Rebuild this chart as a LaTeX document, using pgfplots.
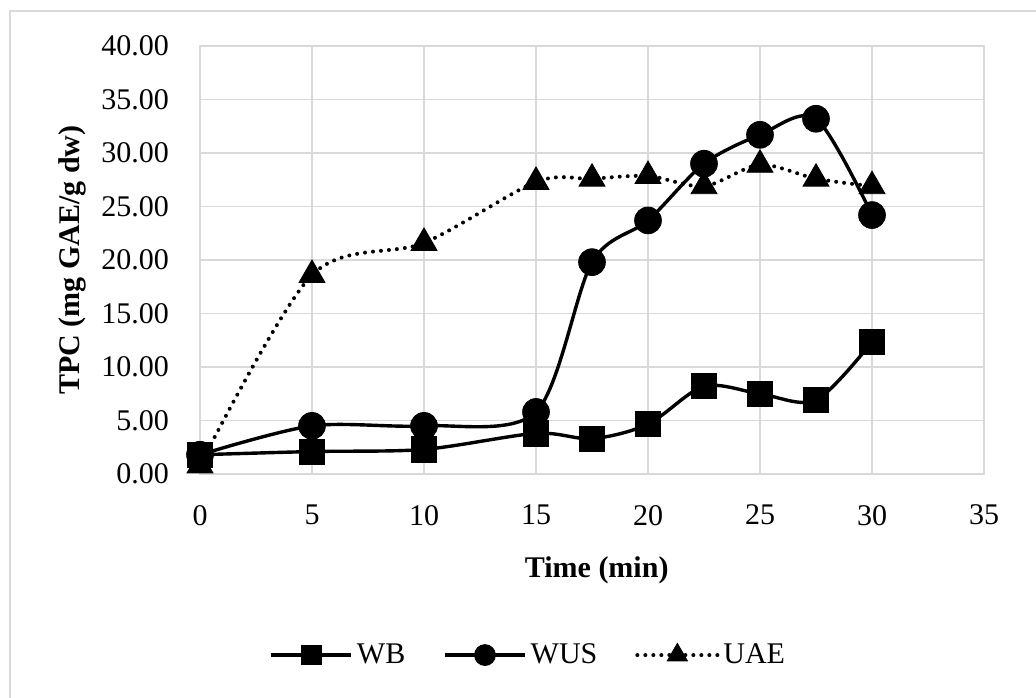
\documentclass[border=0pt]{standalone}
\usepackage{fontspec}
\setmainfont{Liberation Serif}
\usepackage{pgfplots}
\pgfplotsset{compat=1.18}
\definecolor{gridgray}{HTML}{D9D9D9}
\begin{document}
\begin{tikzpicture}[x=1pt,y=1pt]
\useasboundingbox (0,0) rectangle (518,348.5);
\draw[gridgray, line width=0.9pt] (5,-20) rectangle (540,343);
\begin{axis}[
  at={(100pt,111.5pt)}, anchor=south west,
  width=392pt, height=214pt, scale only axis,
  xmin=0, xmax=35, ymin=0, ymax=40,
  xtick={0,5,...,35}, ytick={0,5,...,40},
  grid=major, major grid style={gridgray, line width=0.75pt},
  axis line style={gridgray, line width=0.75pt},
  tick style={draw=none},
  clip=false,
  font=\fontsize{15}{18}\selectfont,
  /pgf/number format/assume math mode=true,
  y tick label style={/pgf/number format/.cd, fixed, fixed zerofill, precision=2, /tikz/.cd, xshift=-12pt},
  x tick label style={/pgf/number format/.cd, fixed, precision=0, /tikz/.cd, yshift=-12pt},
  xlabel={\textbf{Time (min)}},
  ylabel={\textbf{TPC (mg GAE/g dw)}},
  x label style={at={(axis description cs:0.506,-0.224)}, anchor=center},
  y label style={at={(axis description cs:-0.163,0.5)}, anchor=center},
  legend columns=3,
  legend style={at={(axis description cs:0.42,-0.423)}, anchor=center, draw=none, fill=none,
    /tikz/every even column/.append style={column sep=17pt},
    nodes={inner sep=2pt}},
  legend image code/.code={\draw[mark repeat=2, mark phase=2, #1, every mark/.append style={scale=0.78}] plot coordinates {(0pt,0pt) (20pt,0pt) (40pt,0pt)};},
]
\addplot[black, line width=1.7pt, smooth, tension=0.5, mark=square*, mark size=6.3pt, mark options={solid, line width=0.4pt, fill=black}]
coordinates {(0,1.8)(5,2.1)(10,2.3)(15,3.8)(17.5,3.3)(20,4.65)(22.5,8.2)(25,7.5)(27.5,6.9)(30,12.35)};
\addlegendentry{WB}
\addplot[black, line width=1.7pt, smooth, tension=0.5, mark=*, mark size=6.7pt, mark options={solid, line width=0.4pt, fill=black}]
coordinates {(0,1.8)(5,4.5)(10,4.5)(15,5.8)(17.5,19.8)(20,23.7)(22.5,29.0)(25,31.7)(27.5,33.2)(30,24.2)};
\addlegendentry{WUS}
\addplot[black, line width=2pt, line cap=round, dash pattern=on 0pt off 4pt, smooth, tension=0.5, mark=triangle*, mark size=7.5pt, mark options={solid, line width=0.4pt, fill=black}]
coordinates {(0,0.8)(5,18.6)(10,21.6)(15,27.3)(17.5,27.6)(20,27.85)(22.5,26.9)(25,28.9)(27.5,27.6)(30,26.9)};
\addlegendentry{UAE}
\end{axis}
\end{tikzpicture}
\end{document}
